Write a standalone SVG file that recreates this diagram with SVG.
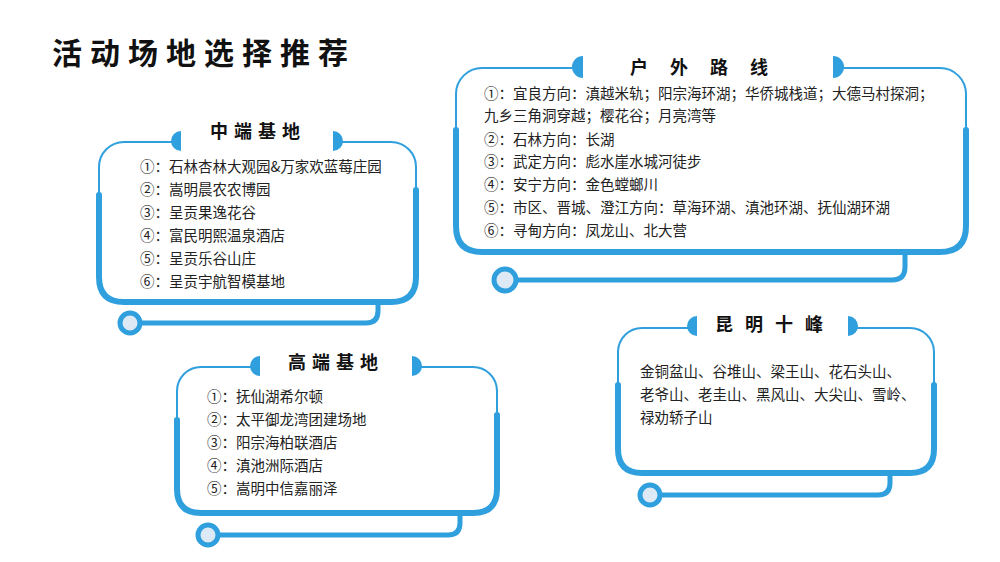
<svg xmlns="http://www.w3.org/2000/svg" width="1000" height="562" viewBox="0 0 1000 562">
<style>
.thin{fill:none;stroke:#2fa0dd;stroke-width:2}
.thick{fill:none;stroke:#2fa0dd;stroke-width:6;stroke-linecap:round}
.tail{fill:none;stroke:#2fa0dd;stroke-width:5}
.dot{fill:#dde9f5;stroke:#2fa0dd;stroke-width:5}
.blob{fill:#2fa0dd}
.t{font-family:"Noto Sans CJK SC","Noto Sans",sans-serif;font-size:14.5px;fill:#222}
.h{font-family:"Noto Sans CJK SC",sans-serif;font-size:18px;font-weight:bold;fill:#111;text-anchor:middle}
</style>
<rect width="1000" height="562" fill="#fff"/>
<text x="52" y="64" font-family="Noto Sans CJK SC,sans-serif" font-size="30" font-weight="bold" letter-spacing="8" fill="#111">活动场地选择推荐</text>

<g id="card-mid">
<path class="tail" d="M142,323 H366 Q378,323 378,311 V302"/>
<circle class="dot" cx="130" cy="323" r="10"/>
<rect class="thin" x="99" y="142" width="317" height="160" rx="25"/>
<path class="thick" d="M99,195 V277 Q99,302 124,302 H391 Q416,302 416,277 V190"/>
<rect x="181" y="136" width="152" height="12" fill="#fff"/>
<path class="blob" d="M181,131 A10,10 0 0 0 181,151 Z"/>
<path class="blob" d="M333,131 A10,10 0 0 1 333,151 Z"/>
<text class="h" x="258" y="138" letter-spacing="6">中端基地</text>
<text class="t" x="140" y="172">①：石林杏林大观园&amp;万家欢蓝莓庄园</text>
<text class="t" x="140" y="195">②：嵩明晨农农博园</text>
<text class="t" x="140" y="218">③：呈贡果逸花谷</text>
<text class="t" x="140" y="241">④：富民明熙温泉酒店</text>
<text class="t" x="140" y="264">⑤：呈贡乐谷山庄</text>
<text class="t" x="140" y="287">⑥：呈贡宇航智模基地</text>
</g>

<g id="card-outdoor">
<path class="tail" d="M518,280 H892 Q905,280 905,267 V252"/>
<circle class="dot" cx="505" cy="280" r="11"/>
<rect class="thin" x="456" y="68" width="510" height="184" rx="26"/>
<path class="thick" d="M456,130 V226 Q456,252 482,252 H940 Q966,252 966,226 V130"/>
<rect x="583" y="62" width="250" height="12" fill="#fff"/>
<path class="blob" d="M583,56 A10,10 0 0 0 583,78 Z"/>
<path class="blob" d="M833,56 A10,10 0 0 1 833,78 Z"/>
<text class="h" x="710" y="74" letter-spacing="22">户外路线</text>
<text class="t" x="484" y="99">①：宜良方向：滇越米轨；阳宗海环湖；华侨城栈道；大德马村探洞；</text>
<text class="t" x="484" y="121">九乡三角洞穿越；樱花谷；月亮湾等</text>
<text class="t" x="484" y="145">②：石林方向：长湖</text>
<text class="t" x="484" y="167">③：武定方向：彪水崖水城河徒步</text>
<text class="t" x="484" y="190">④：安宁方向：金色螳螂川</text>
<text class="t" x="484" y="213">⑤：市区、晋城、澄江方向：草海环湖、滇池环湖、抚仙湖环湖</text>
<text class="t" x="484" y="236">⑥：寻甸方向：凤龙山、北大营</text>
</g>

<g id="card-high">
<path class="tail" d="M219,535 H448 Q460,535 460,523 V513"/>
<circle class="dot" cx="208" cy="535" r="10"/>
<rect class="thin" x="177" y="367" width="320" height="146" rx="24"/>
<path class="thick" d="M177,420 V489 Q177,513 201,513 H473 Q497,513 497,489 V415"/>
<rect x="260" y="361" width="152" height="12" fill="#fff"/>
<path class="blob" d="M260,356 A10,10 0 0 0 260,376 Z"/>
<path class="blob" d="M412,356 A10,10 0 0 1 412,376 Z"/>
<text class="h" x="336" y="369" letter-spacing="6">高端基地</text>
<text class="t" x="207" y="402">①：抚仙湖希尔顿</text>
<text class="t" x="207" y="425">②：太平御龙湾团建场地</text>
<text class="t" x="207" y="448">③：阳宗海柏联酒店</text>
<text class="t" x="207" y="471">④：滇池洲际酒店</text>
<text class="t" x="207" y="494">⑤：嵩明中信嘉丽泽</text>
</g>

<g id="card-peaks">
<path class="tail" d="M661,495 H878 Q890,495 890,483 V473"/>
<circle class="dot" cx="650" cy="495" r="10"/>
<rect class="thin" x="618" y="328" width="316" height="145" rx="24"/>
<path class="thick" d="M618,385 V449 Q618,473 642,473 H910 Q934,473 934,449 V385"/>
<rect x="697" y="322" width="151" height="12" fill="#fff"/>
<path class="blob" d="M697,316 A10,10 0 0 0 697,336 Z"/>
<path class="blob" d="M848,316 A10,10 0 0 1 848,336 Z"/>
<text class="h" x="775" y="331" letter-spacing="12">昆明十峰</text>
<text class="t" x="640" y="377">金铜盆山、谷堆山、梁王山、花石头山、</text>
<text class="t" x="640" y="400">老爷山、老圭山、黑风山、大尖山、雪岭、</text>
<text class="t" x="640" y="423">禄劝轿子山</text>
</g>
</svg>
